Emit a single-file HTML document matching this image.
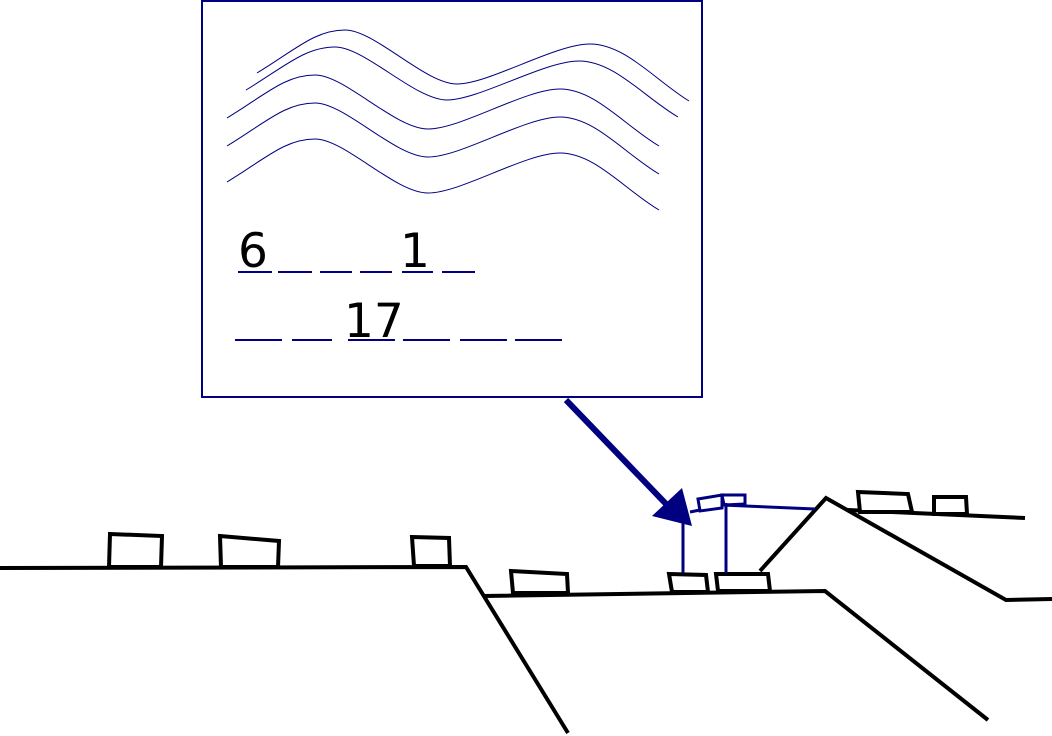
<!DOCTYPE html>
<html><head><meta charset="utf-8"><style>
html,body{margin:0;padding:0;background:#fff;}
svg{display:block;}
</style></head><body>
<svg width="1052" height="736" viewBox="0 0 1052 736" xmlns="http://www.w3.org/2000/svg">
<g>
<rect x="202" y="1" width="500" height="396" fill="#fff" stroke="#000080" stroke-width="2"/>
<g fill="none" stroke="#000080" stroke-width="1">
<path d="M257,73 C295,50 315,30 345,30 S425,84 457,84 S555,44 590,44 S655,80 689,101"/>
<path d="M246,90 C284,67 305,47 335,47 S415,100 447,100 S544,61 579,61 S644,97 678,117"/>
<path d="M227,118 C265,95 285,75 315,75 S395,129 428,129 S525,89 560,89 S625,126 659,146"/>
<path d="M227,146 C265,123 285,103 315,103 S395,157 428,157 S525,117 560,117 S625,154 659,174"/>
<path d="M227,182 C265,159 285,139 315,139 S395,193 428,193 S525,153 560,153 S625,190 659,210"/>
</g>
<g stroke="#000080" stroke-width="2">
<line x1="238" y1="272" x2="272" y2="272"/><line x1="278" y1="272" x2="312" y2="272"/>
<line x1="320" y1="272" x2="352" y2="272"/><line x1="360" y1="272" x2="392" y2="272"/>
<line x1="402" y1="272" x2="433" y2="272"/><line x1="442" y1="272" x2="475" y2="272"/>
</g>
<g stroke="#000080" stroke-width="2">
<line x1="235" y1="340" x2="282" y2="340"/><line x1="292" y1="340" x2="332" y2="340"/>
<line x1="348" y1="340" x2="395" y2="340"/><line x1="403" y1="340" x2="450" y2="340"/>
<line x1="460" y1="340" x2="507" y2="340"/><line x1="515" y1="340" x2="562" y2="340"/>
</g>
<g font-family="'DejaVu Sans','Liberation Sans',sans-serif" font-size="47" fill="#000">
<text x="238" y="267">6</text>
<text x="400" y="267">1</text>
<text x="344" y="337">17</text>
</g>
</g>
<g>
<line x1="566" y1="400" x2="668" y2="506" stroke="#000080" stroke-width="6"/>
<polygon points="652,516 682,488 692,526" fill="#000080"/>
</g>
<g fill="none" stroke="#000" stroke-width="4" stroke-linejoin="miter">
<polyline points="0,568 466,567 568,733"/>
<polyline points="484,596 825,591 988,720"/>
<polyline points="760,571 826,498 1006,600 1052,599"/>
<polyline points="848,510 1025,518"/>
</g>
<g fill="#fff" stroke="#000" stroke-width="4">
<polygon points="110,534 162,536 161,567 109,567"/>
<polygon points="220,536 279,541 278,567 221,567"/>
<polygon points="412,537 449,538 450,566 414,566"/>
<polygon points="511,571 567,574 568,593 513,593"/>
<polygon points="669,574 706,575 708,592 672,592"/>
<polygon points="716,574 768,574 770,591 718,591"/>
<polygon points="858,492 908,494 912,512 860,512"/>
<polygon points="934,497 966,497 967,514 934,514"/>
</g>
<g fill="none" stroke="#000080" stroke-width="3">
<line x1="683" y1="520" x2="683" y2="573"/>
<line x1="726" y1="503" x2="726" y2="573"/>
<line x1="690" y1="512" x2="700" y2="510"/>
<line x1="722" y1="505" x2="815" y2="509"/>
<polygon points="698,499 722,495 722,508 700,511"/>
<polygon points="722,495 745,495 745,504 724,505"/>
</g>
</svg>
</body></html>
